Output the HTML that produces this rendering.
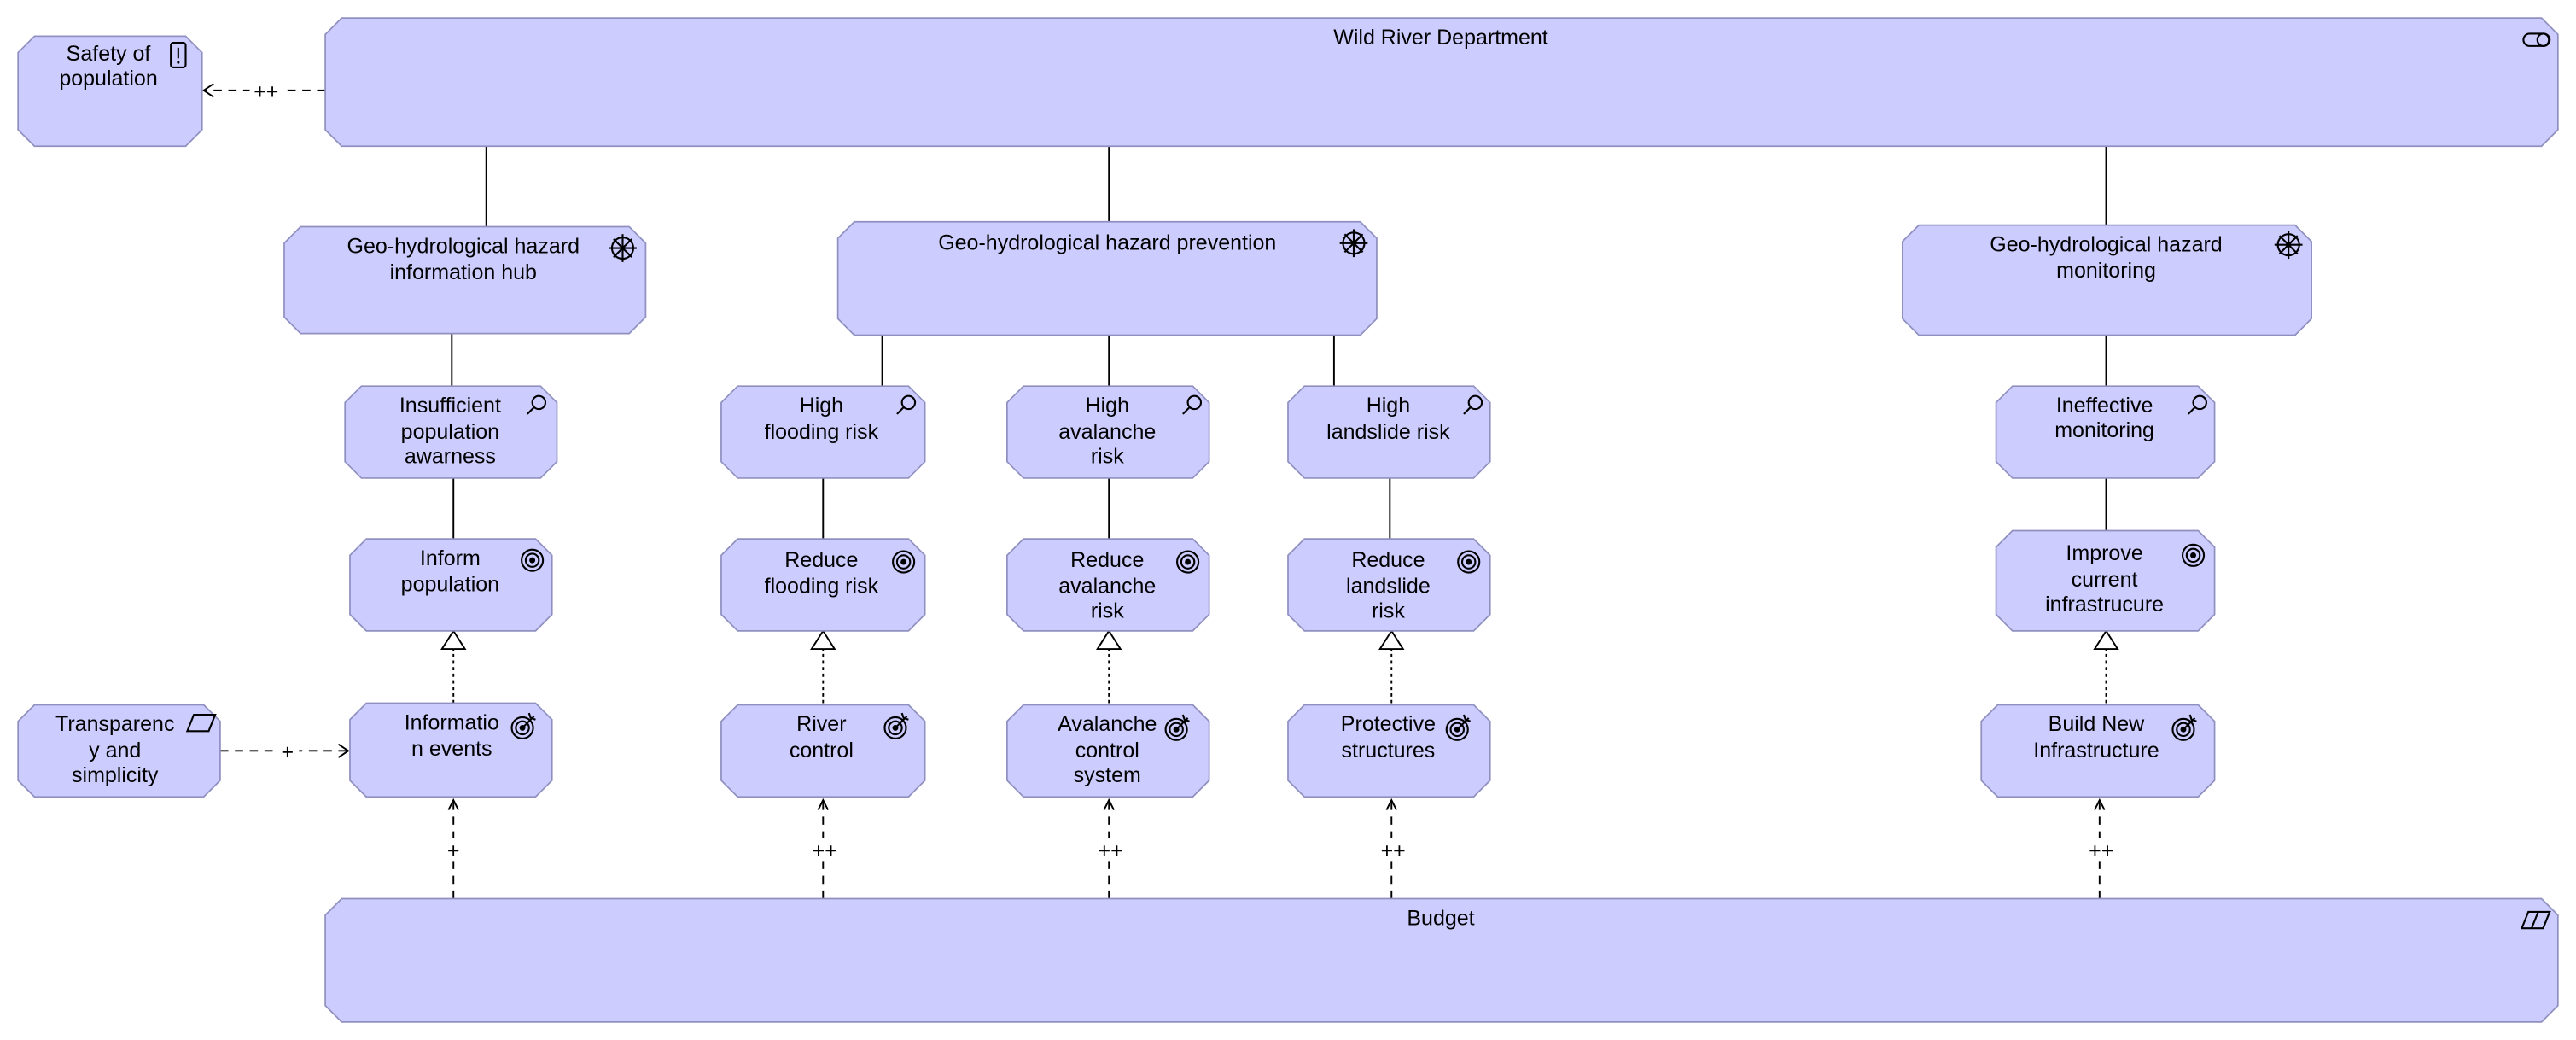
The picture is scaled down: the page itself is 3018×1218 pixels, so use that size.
<!DOCTYPE html>
<html><head><meta charset="utf-8"><style>
html,body{margin:0;padding:0;background:#fff;}
svg{display:block;}
text{font-family:"Liberation Sans","DejaVu Sans",sans-serif;font-size:13px;fill:#000;text-anchor:middle;}
.b{fill:#ccccff;stroke:#9090c0;stroke-width:0.9;}
.l{stroke:#000;stroke-width:1;fill:none;}
.i{stroke:#000;stroke-width:1.1;fill:none;}
</style></head><body>
<svg width="3018" height="1218" viewBox="0 0 1568 633" preserveAspectRatio="none" xmlns="http://www.w3.org/2000/svg">
<defs>
<g id="wheel"><circle r="6.5" class="i"/><line x1="0" y1="-8.5" x2="0" y2="8.5" class="i"/><line x1="-8.5" y1="0" x2="8.5" y2="0" class="i"/><line x1="-5.5" y1="-5.5" x2="5.5" y2="5.5" class="i"/><line x1="-5.5" y1="5.5" x2="5.5" y2="-5.5" class="i"/><circle r="1.6" fill="#000"/></g>
<g id="mag"><circle cx="2" cy="-2" r="4" class="i"/><line x1="-0.8" y1="0.8" x2="-5" y2="5" class="i"/></g>
<g id="goal"><circle r="6.5" class="i"/><circle r="4" class="i"/><circle r="1.8" fill="#000"/></g>
<g id="out"><circle r="6.5" class="i"/><circle r="4" class="i"/><circle r="1.8" fill="#000"/><line x1="0" y1="0" x2="7" y2="-7" class="i"/><polyline points="4,-9 5,-6 8,-5" class="i"/></g>
</defs>

<!-- connectors -->
<g class="l">
<line x1="296" y1="89" x2="296" y2="138"/>
<line x1="675" y1="89" x2="675" y2="135"/>
<line x1="1282" y1="89" x2="1282" y2="137"/>
<line x1="275" y1="203" x2="275" y2="235"/>
<line x1="537" y1="204" x2="537" y2="235"/>
<line x1="675" y1="204" x2="675" y2="235"/>
<line x1="812" y1="204" x2="812" y2="235"/>
<line x1="1282" y1="204" x2="1282" y2="235"/>
<line x1="276" y1="291" x2="276" y2="328"/>
<line x1="501" y1="291" x2="501" y2="328"/>
<line x1="675" y1="291" x2="675" y2="328"/>
<line x1="846" y1="291" x2="846" y2="328"/>
<line x1="1282" y1="291" x2="1282" y2="323"/>
</g>
<!-- realization -->
<g class="l" stroke-dasharray="2,2">
<line x1="276" y1="428" x2="276" y2="395"/>
<line x1="501" y1="428" x2="501" y2="395"/>
<line x1="675" y1="428" x2="675" y2="395"/>
<line x1="847" y1="428" x2="847" y2="395"/>
<line x1="1282" y1="428" x2="1282" y2="395"/>
</g>
<g fill="#fff" stroke="#000" stroke-width="1">
<polygon points="276,384 269,395 283,395"/>
<polygon points="501,384 494,395 508,395"/>
<polygon points="675,384 668,395 682,395"/>
<polygon points="847,384 840,395 854,395"/>
<polygon points="1282,384 1275,395 1289,395"/>
</g>
<!-- influence -->
<g class="l" stroke-dasharray="5,4">
<line x1="198" y1="55" x2="124" y2="55"/>
<line x1="134" y1="457" x2="212" y2="457"/>
<line x1="276" y1="547" x2="276" y2="487"/>
<line x1="501" y1="547" x2="501" y2="487"/>
<line x1="675" y1="547" x2="675" y2="487"/>
<line x1="847" y1="547" x2="847" y2="487"/>
<line x1="1278" y1="547" x2="1278" y2="487"/>
</g>
<g class="l">
<polyline points="130,51 124,55 130,59"/>
<polyline points="206,453 212,457 206,461"/>
<polyline points="273,493 276,487 279,493"/>
<polyline points="498,493 501,487 504,493"/>
<polyline points="672,493 675,487 678,493"/>
<polyline points="844,493 847,487 850,493"/>
<polyline points="1275,493 1278,487 1281,493"/>
</g>
<g>
<rect x="152" y="50" width="20" height="12" fill="#fff"/><text x="162" y="60">++</text>
<rect x="168" y="452" width="14" height="12" fill="#fff"/><text x="175" y="462">+</text>
<rect x="268" y="510" width="16" height="14" fill="#fff"/><text x="276" y="522">+</text>
<rect x="490" y="510" width="22" height="14" fill="#fff"/><text x="502" y="522">++</text>
<rect x="664" y="510" width="22" height="14" fill="#fff"/><text x="676" y="522">++</text>
<rect x="836" y="510" width="22" height="14" fill="#fff"/><text x="848" y="522">++</text>
<rect x="1267" y="510" width="22" height="14" fill="#fff"/><text x="1279" y="522">++</text>
</g>

<!-- boxes -->
<polygon class="b" points="21,22 113,22 123,32 123,79 113,89 21,89 11,79 11,32"/>
<text x="66" y="37">Safety of</text><text x="66" y="52">population</text>
<rect x="104" y="26" width="9" height="15" rx="1.5" class="i"/><line x1="108.5" y1="29" x2="108.5" y2="35.5" class="i"/><circle cx="108.5" cy="38" r="0.8" fill="#000"/>

<polygon class="b" points="208,11 1547,11 1557,21 1557,79 1547,89 208,89 198,79 198,21"/>
<text x="877" y="27">Wild River Department</text>
<rect x="1536" y="20.5" width="16" height="7.5" rx="3.75" class="i"/><ellipse cx="1548" cy="24.25" rx="3.5" ry="3.75" class="i"/>

<polygon class="b" points="183,138 383,138 393,148 393,193 383,203 183,203 173,193 173,148"/>
<text x="282" y="154">Geo-hydrological hazard</text><text x="282" y="170">information hub</text>
<use href="#wheel" x="379" y="151"/>

<polygon class="b" points="520,135 828,135 838,145 838,194 828,204 520,204 510,194 510,145"/>
<text x="674" y="152">Geo-hydrological hazard prevention</text>
<use href="#wheel" x="824" y="148"/>

<polygon class="b" points="1168,137 1397,137 1407,147 1407,194 1397,204 1168,204 1158,194 1158,147"/>
<text x="1282" y="153">Geo-hydrological hazard</text><text x="1282" y="169">monitoring</text>
<use href="#wheel" x="1393" y="149"/>

<!-- assessments -->
<polygon class="b" points="220,235 329,235 339,245 339,281 329,291 220,291 210,281 210,245"/>
<text x="274" y="251">Insufficient</text><text x="274" y="267">population</text><text x="274" y="282">awarness</text>
<use href="#mag" x="326" y="247"/>
<polygon class="b" points="449,235 553,235 563,245 563,281 553,291 449,291 439,281 439,245"/>
<text x="500" y="251">High</text><text x="500" y="267">flooding risk</text>
<use href="#mag" x="551" y="247"/>
<polygon class="b" points="623,235 726,235 736,245 736,281 726,291 623,291 613,281 613,245"/>
<text x="674" y="251">High</text><text x="674" y="267">avalanche</text><text x="674" y="282">risk</text>
<use href="#mag" x="725" y="247"/>
<polygon class="b" points="794,235 897,235 907,245 907,281 897,291 794,291 784,281 784,245"/>
<text x="845" y="251">High</text><text x="845" y="267">landslide risk</text>
<use href="#mag" x="896" y="247"/>
<polygon class="b" points="1225,235 1338,235 1348,245 1348,281 1338,291 1225,291 1215,281 1215,245"/>
<text x="1281" y="251">Ineffective</text><text x="1281" y="266">monitoring</text>
<use href="#mag" x="1337" y="247"/>

<!-- goals -->
<polygon class="b" points="223,328 326,328 336,338 336,374 326,384 223,384 213,374 213,338"/>
<text x="274" y="344">Inform</text><text x="274" y="360">population</text>
<use href="#goal" x="324" y="341"/>
<polygon class="b" points="449,328 553,328 563,338 563,374 553,384 449,384 439,374 439,338"/>
<text x="500" y="345">Reduce</text><text x="500" y="361">flooding risk</text>
<use href="#goal" x="550" y="342"/>
<polygon class="b" points="623,328 726,328 736,338 736,374 726,384 623,384 613,374 613,338"/>
<text x="674" y="345">Reduce</text><text x="674" y="361">avalanche</text><text x="674" y="376">risk</text>
<use href="#goal" x="723" y="342"/>
<polygon class="b" points="794,328 897,328 907,338 907,374 897,384 794,384 784,374 784,338"/>
<text x="845" y="345">Reduce</text><text x="845" y="361">landslide</text><text x="845" y="376">risk</text>
<use href="#goal" x="894" y="342"/>
<polygon class="b" points="1225,323 1338,323 1348,333 1348,374 1338,384 1225,384 1215,374 1215,333"/>
<text x="1281" y="341">Improve</text><text x="1281" y="357">current</text><text x="1281" y="372">infrastrucure</text>
<use href="#goal" x="1335" y="338"/>

<!-- outcomes -->
<polygon class="b" points="21,429 124,429 134,439 134,475 124,485 21,485 11,475 11,439"/>
<text x="70" y="445">Transparenc</text><text x="70" y="461">y and</text><text x="70" y="476">simplicity</text>
<polygon points="118,435 131,435 127,445 114,445" class="i"/>

<polygon class="b" points="223,428 326,428 336,438 336,475 326,485 223,485 213,475 213,438"/>
<text x="275" y="444">Informatio</text><text x="275" y="460">n events</text>
<use href="#out" x="318" y="443"/>
<polygon class="b" points="449,429 553,429 563,439 563,475 553,485 449,485 439,475 439,439"/>
<text x="500" y="445">River</text><text x="500" y="461">control</text>
<use href="#out" x="545" y="443"/>
<polygon class="b" points="623,429 726,429 736,439 736,475 726,485 623,485 613,475 613,439"/>
<text x="674" y="445">Avalanche</text><text x="674" y="461">control</text><text x="674" y="476">system</text>
<use href="#out" x="716" y="444"/>
<polygon class="b" points="794,429 897,429 907,439 907,475 897,485 794,485 784,475 784,439"/>
<text x="845" y="445">Protective</text><text x="845" y="461">structures</text>
<use href="#out" x="887" y="444"/>
<polygon class="b" points="1216,429 1338,429 1348,439 1348,475 1338,485 1216,485 1206,475 1206,439"/>
<text x="1276" y="445">Build New</text><text x="1276" y="461">Infrastructure</text>
<use href="#out" x="1329" y="444"/>

<!-- budget -->
<polygon class="b" points="208,547 1547,547 1557,557 1557,612 1547,622 208,622 198,612 198,557"/>
<text x="877" y="563">Budget</text>
<polygon points="1539,555 1552,555 1548,565 1535,565" class="i"/><line x1="1545" y1="555" x2="1541" y2="565" class="i"/>
</svg>
</body></html>
